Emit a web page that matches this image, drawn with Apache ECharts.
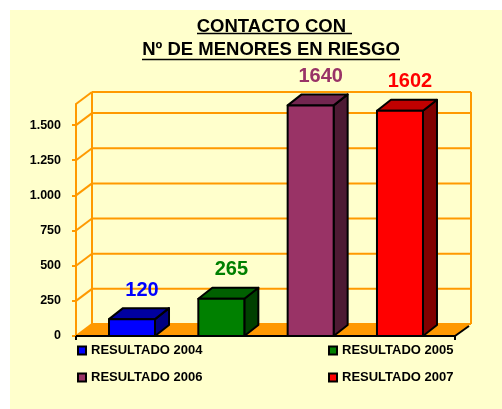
<!DOCTYPE html>
<html><head><meta charset="utf-8">
<script src="https://cdn.jsdelivr.net/npm/echarts@6/dist/echarts.min.js"></script>
<style>html,body{margin:0;padding:0;background:#fff;}#c{width:502px;height:409px;}</style>
</head><body><div id="c"></div>
<script>
// ---- data ----
const categories = ['RESULTADO 2004', 'RESULTADO 2005', 'RESULTADO 2006', 'RESULTADO 2007'];
const values = [120, 265, 1640, 1602];
const yTicks = [0, 250, 500, 750, 1000, 1250, 1500];
const titleLines = ['CONTACTO CON ', 'Nº DE MENORES EN RIESGO'];

// ---- styles ----
const FONT = '"Liberation Sans", Arial, sans-serif';
const ORANGE = '#FF9900';
const frontColors = ['#0000FF', '#008000', '#993366', '#FF0000'];
const topColors = ['#0000A0', '#006000', '#732650', '#C00000'];
const sideColors = ['#000080', '#004000', '#4D1A33', '#800000'];
const labelColors = ['#0000FF', '#008000', '#993366', '#FF0000'];
const X_MIN = -0.627, X_MAX = 3.616, Y_MAX = 1650;
const WD = [16, -12]; // wall depth
const BD = [14, -11]; // bar depth

const chart = echarts.init(document.getElementById('c'), null, {renderer: 'canvas'});

function fmt(v) { return String(v).replace(/\B(?=(\d{3})+(?!\d))/g, '.'); }

const series = [];
// gridlines on back wall + side wall diagonals
series.push({
  type: 'custom', z: 1, silent: true,
  data: yTicks.map(v => [X_MIN, v]),
  renderItem: function (params, api) {
    const p = api.coord([X_MIN, api.value(1)]);
    const q = api.coord([X_MAX, api.value(1)]);
    const st = {stroke: ORANGE, lineWidth: 2};
    return {type: 'group', children: [
      {type: 'line', shape: {x1: p[0], y1: p[1], x2: p[0] + WD[0], y2: p[1] + WD[1]}, style: st},
      {type: 'line', shape: {x1: p[0] + WD[0], y1: p[1] + WD[1], x2: q[0] + WD[0], y2: q[1] + WD[1]}, style: st}
    ]};
  }
});
// frame: floor, back verticals, top
series.push({
  type: 'custom', z: 1, silent: true,
  data: [[X_MIN, 0]],
  renderItem: function (params, api) {
    const bl = api.coord([X_MIN, 0]), br = api.coord([X_MAX, 0]);
    const tl = api.coord([X_MIN, Y_MAX]), tr = api.coord([X_MAX, Y_MAX]);
    const st = {stroke: ORANGE, lineWidth: 2};
    const bk = {stroke: '#000', lineWidth: 2};
    return {type: 'group', children: [
      {type: 'polygon', shape: {points: [bl, br, [br[0] + WD[0], br[1] + WD[1]], [bl[0] + WD[0], bl[1] + WD[1]]]}, style: {fill: ORANGE}},
      {type: 'line', shape: {x1: tl[0], y1: tl[1], x2: tl[0] + WD[0], y2: tl[1] + WD[1]}, style: st},
      {type: 'line', shape: {x1: tl[0] + WD[0], y1: tl[1] + WD[1], x2: tr[0] + WD[0], y2: tr[1] + WD[1]}, style: st},
      {type: 'line', shape: {x1: tl[0] + WD[0], y1: tl[1] + WD[1], x2: bl[0] + WD[0], y2: bl[1] + WD[1]}, style: st},
      {type: 'line', shape: {x1: tr[0] + WD[0], y1: tr[1] + WD[1], x2: br[0] + WD[0], y2: br[1] + WD[1]}, style: st},
      {type: 'line', shape: {x1: bl[0], y1: bl[1], x2: br[0], y2: br[1]}, style: bk},
      {type: 'line', shape: {x1: br[0], y1: br[1], x2: br[0] + WD[0] - 2, y2: br[1] + WD[1] + 2}, style: bk},
      {type: 'line', shape: {x1: bl[0], y1: bl[1], x2: bl[0], y2: bl[1] + 4}, style: bk},
      {type: 'line', shape: {x1: br[0], y1: br[1], x2: br[0], y2: br[1] + 4}, style: bk}
    ]};
  }
});
// bars
categories.forEach((name, i) => {
  series.push({
    type: 'custom', name: name, z: 3,
    itemStyle: {color: frontColors[i]},
    data: [[i, values[i]]],
    renderItem: function (params, api) {
      const x = api.value(0), v = api.value(1);
      const top = api.coord([x, v]), base = api.coord([x, 0]);
      const w = api.size([1, 0])[0] * 0.515;
      const x0 = top[0] - w / 2, x1 = top[0] + w / 2;
      const y0 = top[1], y1 = base[1];
      const ln = {stroke: '#000', lineWidth: 2, lineJoin: 'round'};
      return {type: 'group', children: [
        {type: 'polygon', shape: {points: [[x1, y0], [x1 + BD[0], y0 + BD[1]], [x1 + BD[0], y1 + BD[1]], [x1, y1]]},
          style: Object.assign({fill: sideColors[i]}, ln)},
        {type: 'polygon', shape: {points: [[x0, y0], [x0 + BD[0], y0 + BD[1]], [x1 + BD[0], y0 + BD[1]], [x1, y0]]},
          style: Object.assign({fill: topColors[i]}, ln)},
        {type: 'rect', shape: {x: x0, y: y0, width: w, height: y1 - y0},
          style: Object.assign({fill: frontColors[i]}, ln)},
        {type: 'text', x: top[0] + 10, y: y0 - 29,
          style: {text: String(values[i]), fill: labelColors[i], fontFamily: FONT, fontWeight: 'bold', fontSize: 20, align: 'center', verticalAlign: 'middle'}}
      ]};
    }
  });
});

const legendPos = [[77, 344], [328, 344], [77, 371], [328, 371]];
const legends = categories.map((name, i) => ({
  data: [name], left: legendPos[i][0], top: legendPos[i][1], padding: 0,
  icon: 'rect', itemWidth: 8, itemHeight: 8, itemGap: 0, selectedMode: false,
  itemStyle: {borderColor: '#000', borderWidth: 2},
  textStyle: {fontFamily: FONT, fontWeight: 'bold', fontSize: 13, color: '#000', padding: [0, 0, 0, 0]}
}));

const option = {
  animation: false,
  backgroundColor: '#fff',
  grid: {left: 76, right: 47, top: 104, bottom: 73},
  xAxis: {type: 'value', min: X_MIN, max: X_MAX, show: false},
  yAxis: {
    type: 'value', min: 0, max: Y_MAX, interval: 250,
    axisLine: {show: true, onZero: false, lineStyle: {color: ORANGE, width: 2}},
    axisTick: {show: true, length: 4, lineStyle: {color: ORANGE, width: 2}, customValues: yTicks},
    axisLabel: {customValues: yTicks, formatter: fmt, margin: 15, color: '#000', fontFamily: FONT, fontWeight: 'bold', fontSize: 12.5},
    splitLine: {show: false}
  },
  legend: legends,
  graphic: [
    {type: 'rect', z: -10, shape: {x: 10, y: 10, width: 492, height: 399}, style: {fill: '#FFFFCC'}},
    {type: 'text', x: 274, y: 26.5, style: {text: titleLines[0], fontFamily: FONT, fontWeight: 'bold', fontSize: 18.5, fill: '#000', align: 'center', verticalAlign: 'middle'}},
    {type: 'line', shape: {x1: 197, y1: 33.5, x2: 352, y2: 33.5}, style: {stroke: '#000', lineWidth: 1.7}},
    {type: 'text', x: 271, y: 49.5, style: {text: titleLines[1], fontFamily: FONT, fontWeight: 'bold', fontSize: 18.5, fill: '#000', align: 'center', verticalAlign: 'middle'}},
    {type: 'line', shape: {x1: 142, y1: 59.5, x2: 400, y2: 59.5}, style: {stroke: '#000', lineWidth: 1.7}}
  ],
  series: series
};
chart.setOption(option);
</script>
</body></html>
